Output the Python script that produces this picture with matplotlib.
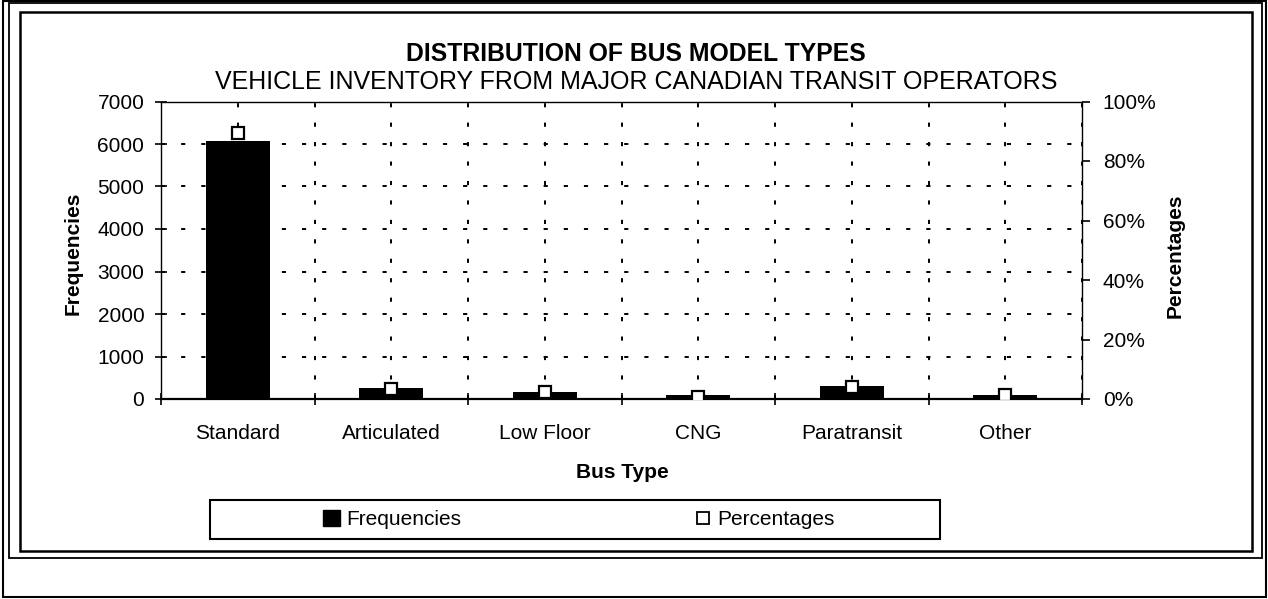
import numpy as np
import matplotlib
matplotlib.use("Agg")
import matplotlib.pyplot as plt
from matplotlib.patches import Rectangle, Patch
from matplotlib.lines import Line2D
from matplotlib.ticker import FuncFormatter

plt.rcParams['font.family'] = ['Liberation Sans', 'DejaVu Sans']
plt.rcParams['lines.scale_dashes'] = False

# values
bus_types = ['Standard', 'Articulated', 'Low Floor', 'CNG', 'Paratransit', 'Other']
frequencies = [6070, 259, 165, 85, 297, 101]
percentages = [89.4, 3.4, 2.3, 0.8, 4.0, 1.2]
freq_ticks = [0, 1000, 2000, 3000, 4000, 5000, 6000, 7000]
pct_ticks = [0, 20, 40, 60, 80, 100]

W, H = 1268, 599
fig = plt.figure(figsize=(W / 100, H / 100), dpi=100)

# background layer in pixel coords for the frames and free text
bg = fig.add_axes([0, 0, 1, 1])
bg.set_xlim(0, W)
bg.set_ylim(H, 0)
bg.axis('off')
bg.add_patch(Rectangle((3, 1), 1263, 596, fill=False, ec='black', lw=1.5))
bg.add_patch(Rectangle((9, 3), 1253, 555, fill=False, ec='black', lw=1.3))
bg.add_patch(Rectangle((20, 12), 1232, 539, fill=False, ec='black', lw=1.8))
bg.add_patch(Rectangle((210, 500), 730, 39, fill=False, ec='black', lw=1.5))

bg.text(636, 54, 'DISTRIBUTION OF BUS MODEL TYPES', ha='center', va='center',
        fontsize=17.8, fontweight='bold')
bg.text(636, 82, 'VEHICLE INVENTORY FROM MAJOR CANADIAN TRANSIT OPERATORS',
        ha='center', va='center', fontsize=18)
bg.text(73, 253, 'Frequencies', ha='center', va='center', rotation=90,
        fontsize=15, fontweight='bold')
bg.text(1175, 256, 'Percentages', ha='center', va='center', rotation=90,
        fontsize=15, fontweight='bold')
bg.text(622, 472, 'Bus Type', ha='center', va='center', fontsize=15,
        fontweight='bold')

# main plot area
left, right, top, bottom = 161, 1082, 101.5, 399
ax = fig.add_axes([left / W, (H - bottom) / H, (right - left) / W, (bottom - top) / H])
x = np.arange(len(bus_types))
ax.bar(x, frequencies, width=0.42, color='black', zorder=3)
ax.set_xlim(-0.5, len(bus_types) - 0.5)
ax.set_ylim(0, 7000)
ax.set_yticks(freq_ticks)
ax.set_xticks(x)
ax.set_xticklabels(bus_types)
ax.set_xticks(np.arange(-0.5, len(bus_types)), minor=True)
ax.tick_params(axis='x', which='major', length=0, pad=18, labelsize=15)
ax.tick_params(axis='x', which='minor', direction='inout', length=9, width=1.2)
ax.tick_params(axis='y', direction='inout', length=8, width=1.2, pad=8, labelsize=15)
ax.grid(axis='y', color='black', lw=1.4, ls=(0, (3, 11.5)), zorder=1)
ax.grid(axis='x', which='both', color='black', lw=1.4, ls=(0, (3, 11)), zorder=1)
for side in ['left', 'top', 'right']:
    ax.spines[side].set_linewidth(1.0)
ax.spines['bottom'].set_linewidth(1.6)

ax2 = ax.twinx()
ax2.plot(x, percentages, ls='none', marker='s', ms=9, mfc='white', mec='black',
         mew=1.6, zorder=5)
ax2.set_ylim(0, 100)
ax2.set_yticks(pct_ticks)
ax2.yaxis.set_major_formatter(FuncFormatter(lambda v, p: '%d%%' % v))
ax2.tick_params(axis='y', direction='out', length=6, width=1.2, pad=9, labelsize=15)
for side in ['left', 'top', 'right', 'bottom']:
    ax2.spines[side].set_visible(False)

# legend, drawn frameless inside the hand-drawn box
handles = [Patch(facecolor='black', edgecolor='black'),
           Line2D([], [], ls='none', marker='s', ms=8, mfc='white', mec='black', mew=1.3)]
fig.legend(handles, ['Frequencies', 'Percentages'], ncol=2, mode='expand',
           loc='center left', bbox_to_anchor=(323 / W, (H - 519.5) / H, 512 / W, 0),
           frameon=False, fontsize=15, handlelength=0.8, handleheight=0.8,
           handletextpad=0.3, borderaxespad=0, borderpad=0)

fig.savefig('out.png', dpi=100)
